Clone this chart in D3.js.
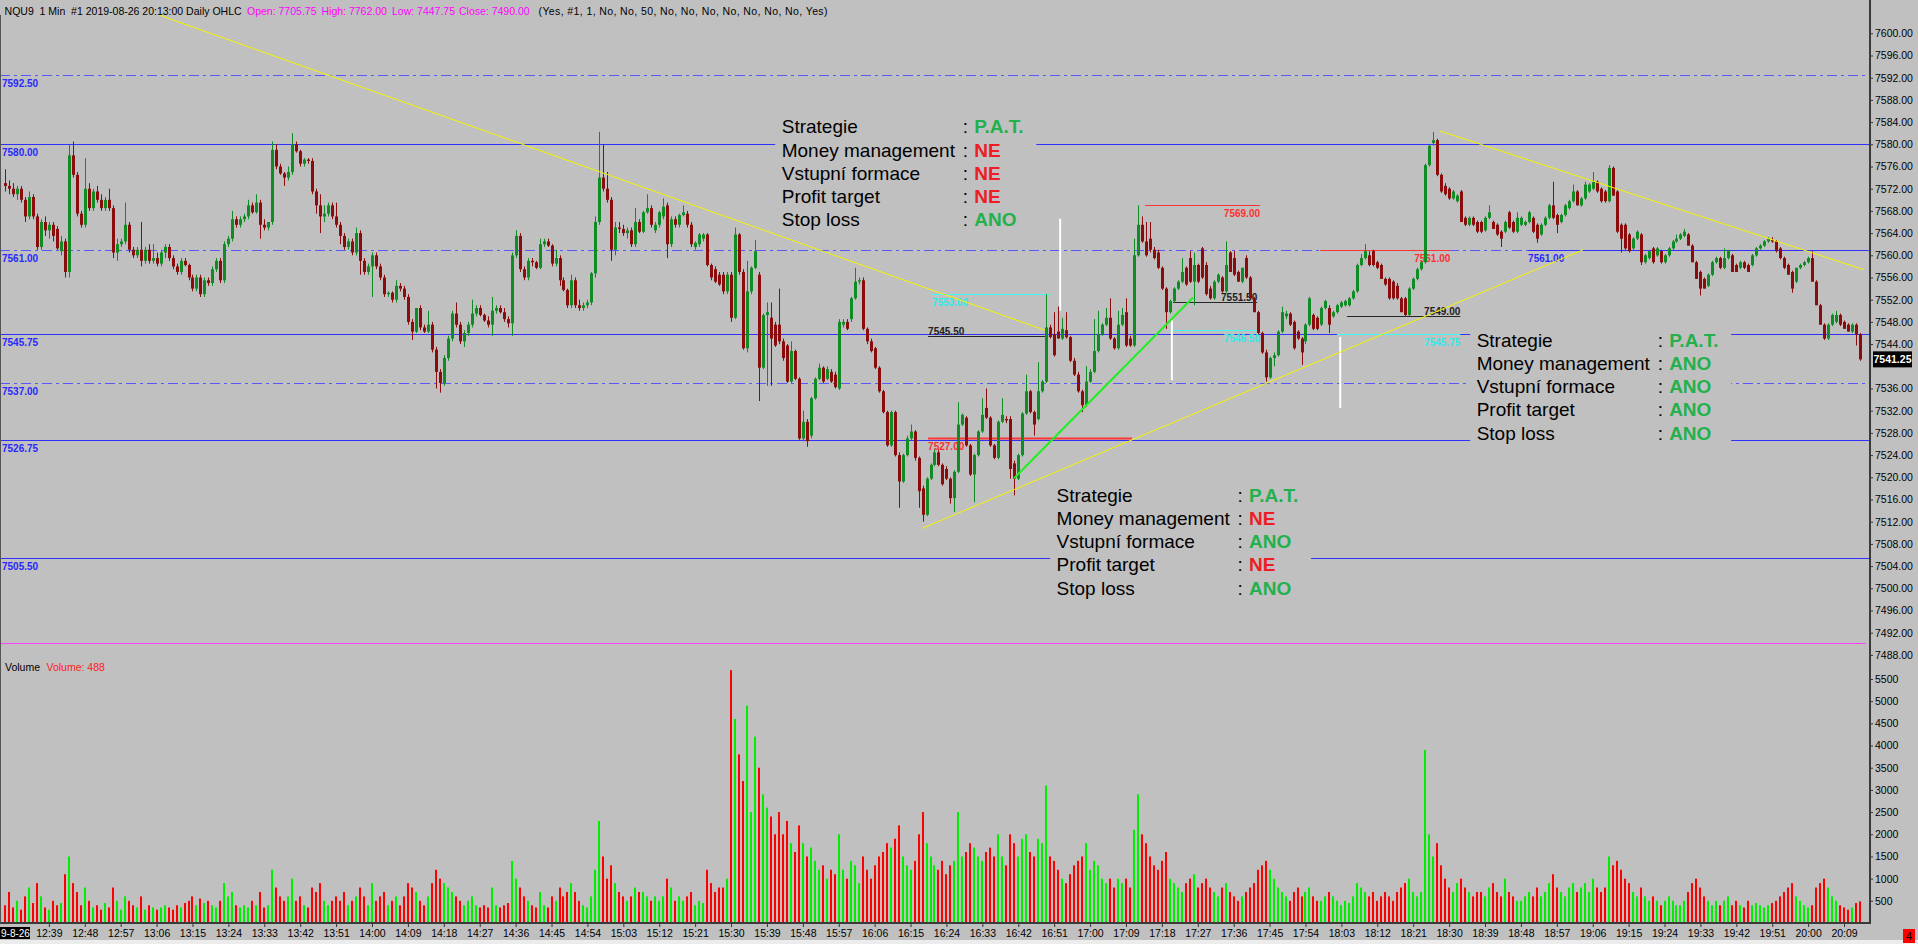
<!DOCTYPE html>
<html><head><meta charset="utf-8">
<script src="https://cdn.jsdelivr.net/npm/d3@7"></script>
<style>
html,body{margin:0;padding:0;background:#c0c0c0;overflow:hidden}
svg{display:block}
text{font-family:"Liberation Sans",Arial,sans-serif;white-space:pre}
</style></head><body><svg id="c" width="1918" height="944"></svg>
<script>
// ---------------- DATA ----------------
const symbolInfo = "NQU9  1 Min  #1 2019-08-26 20:13:00 Daily OHLC";
const headerFields = [["Open",7705.75],["High",7762.00],["Low",7447.75],["Close",7490.00]];
const studyParams = "(Yes, #1, 1, No, No, 50, No, No, No, No, No, No, No, Yes)";
const firstBarTime = "12:28";
const lastPrice = 7541.25;
const lastVolume = 488;

// one row per 1-minute bar: [open, high, low, close]
const ohlc = [
[7573,7575.5,7571.5,7572.5],[7572.5,7573.5,7571,7572],[7572,7573,7570.5,7571],[7571,7572.5,7570,7572],[7572,7572.5,7569.5,7570],
[7570,7570.5,7566,7567],[7567,7571.5,7566.5,7570.5],[7570.5,7571,7566.5,7567],[7567,7567.5,7561,7561.5],[7561.5,7566.5,7561,7566],
[7566,7567,7563.5,7564.5],[7564.5,7566,7563,7565.5],[7565.5,7566,7562.5,7563.5],[7564.75,7565.25,7561,7561.25],[7560.75,7563.5,7560,7562.5],
[7562.5,7563,7556,7557],[7557,7580,7556,7578],[7578,7580.5,7574,7574.5],[7574.5,7575,7567,7567.5],[7567.5,7568,7565,7565.5],
[7565.5,7577.5,7565,7572],[7572,7573,7568,7568.5],[7568.5,7572,7568,7571.5],[7571.5,7572.5,7569.5,7570],[7570,7571,7568,7568.5],
[7568.5,7570.5,7568,7570],[7570,7572,7568,7568.5],[7568.5,7569,7559.5,7560.5],[7560.5,7563,7559,7562],[7562,7563,7561.5,7562.5],
[7562.5,7569.5,7562,7565.5],[7565.5,7566,7560.5,7561],[7561,7561.5,7559.5,7560],[7560,7561.5,7559.5,7561],[7561,7566,7558,7559],
[7559,7561.5,7558.5,7561],[7561,7562,7558.5,7559],[7559,7562,7558.5,7559.5],[7559.5,7560.5,7558,7558.5],[7558.5,7561,7558,7560.5],
[7560.5,7562,7559.5,7561.5],[7561.5,7562,7559,7559.5],[7559.5,7560,7557.5,7558],[7558,7558.5,7556.5,7557],[7557,7559.5,7556.5,7559],
[7559,7559.5,7558,7558.25],[7558.25,7558.5,7555.5,7556],[7556,7556.5,7553.5,7554],[7554,7556.5,7553.5,7556],[7556,7556.5,7552.5,7553],
[7553,7556,7552.5,7555.5],[7555.5,7556,7554.5,7555],[7555,7558,7554.5,7557.5],[7557.5,7559.5,7557,7559],[7559,7559.5,7555,7555.5],
[7555.5,7562.5,7555,7562],[7562,7563.5,7561.5,7563],[7563,7568,7562.5,7566.5],[7566.5,7567,7565,7565.5],[7565.5,7567,7565,7566.5],
[7566.5,7567.5,7566,7567],[7567,7570,7566.5,7569],[7569,7569.5,7567.5,7567.75],[7567.75,7571,7567.5,7569.5],[7569.5,7570,7563,7565.5],
[7565.5,7566.5,7564.5,7565],[7565,7566,7564.5,7566],[7566,7580.5,7565.5,7579],[7579,7580,7575.5,7576],[7576,7576.5,7574.5,7574.75],
[7574.75,7575,7572.5,7574],[7574,7576,7573.5,7575],[7575,7582,7574.5,7580],[7580,7580.5,7578.5,7578.75],[7578.75,7579,7576,7576.5],
[7576.5,7577.5,7576,7577.25],[7577.25,7577.5,7576.5,7577],[7577,7577.5,7571,7571.5],[7571.5,7572,7567.5,7569],[7569,7571,7564,7567],
[7567,7569,7566,7567.5],[7567.5,7569.5,7567,7569],[7569,7569.5,7566.5,7567],[7567,7569.5,7565,7565.5],[7565.5,7566,7562,7563.5],
[7563.5,7564,7561,7561.5],[7561.5,7563,7561,7562.5],[7562.5,7563,7560,7560.5],[7560.5,7565,7560,7564],[7564,7564.5,7556.5,7559],
[7559,7559.5,7556.5,7557],[7557,7558.5,7556.5,7558],[7558,7560.5,7552.5,7560],[7560,7560.5,7557.5,7558],[7558,7558.5,7555.5,7556],
[7556,7556.5,7552.5,7553],[7553,7553.5,7552.5,7553.25],[7553.25,7553.5,7551.5,7552],[7552,7555.5,7551.5,7554.5],[7554.5,7555,7553.5,7554],
[7554,7554.5,7552,7552.5],[7552.5,7553,7547.5,7548],[7548,7548.5,7544.75,7546.25],[7546.25,7550.5,7546,7550.5],[7550.5,7551,7546.5,7547],
[7547,7547.5,7546,7546.25],[7546.25,7550,7546,7547.5],[7547.5,7548,7542.5,7543],[7543,7543.5,7536,7539],[7539,7539.5,7535.25,7537],
[7537,7542,7536.5,7541.5],[7541.5,7545.5,7541,7545],[7545,7550,7544.5,7549.5],[7549.5,7551.5,7547,7547.5],[7547.5,7548,7544,7544.5],
[7544.5,7546.5,7543.5,7546],[7546,7548,7545.5,7547.5],[7547.5,7552,7547,7549.5],[7549.5,7551,7549,7550.5],[7550.5,7551,7549,7549.25],
[7549.25,7549.5,7548,7548.25],[7548.25,7549,7547,7547.5],[7547.5,7552.5,7545.5,7550],[7550,7551,7549.5,7550.5],[7550.5,7551,7549.5,7549.75],
[7549.75,7550.5,7548,7548.5],[7548.5,7549,7547,7547.75],[7547.75,7560.5,7545.5,7560],[7560,7564.5,7559.5,7563.5],[7563.5,7564,7557,7557.5],
[7557.5,7558,7555.5,7556],[7556,7559.5,7555.5,7559],[7559,7559.5,7558,7558.75],[7558.75,7559,7557.5,7557.75],[7557.75,7563,7557.5,7562],
[7562,7563,7561.5,7562.5],[7562.5,7563,7561.5,7561.75],[7561.75,7562,7558,7558.5],[7558.5,7561,7558,7559.5],[7559.5,7560,7554.5,7555.5],
[7555.5,7556,7553.5,7553.75],[7553.75,7554,7550.5,7551],[7551,7556.5,7550.5,7555.5],[7555.5,7556,7550.5,7551],[7551,7552,7550,7550.5],
[7550.5,7551.5,7550,7551],[7551,7552,7550.5,7551.5],[7551.5,7557,7551,7556.75],[7556.75,7567,7556,7566],[7566,7582.25,7565.5,7574],
[7574,7580,7571.5,7572],[7572,7575,7569.5,7570],[7570,7570.5,7559,7561],[7561,7566,7560,7565],[7565,7566,7564,7564.75],
[7564.75,7565.5,7563.5,7564],[7564,7565,7563,7564.5],[7564.5,7565,7561.5,7562],[7562,7568.5,7561.5,7566],[7566,7566.5,7564,7564.25],
[7564.25,7568,7564,7567.75],[7567.75,7571,7567.5,7568.5],[7568.5,7569,7565,7565.5],[7564.5,7566,7564,7565.5],[7565.5,7568,7565,7567.75],
[7567,7570.25,7566.5,7568.75],[7569,7569.5,7559.5,7562],[7562,7567,7561.5,7566.5],[7566.5,7567,7565,7565.5],[7565.5,7567.5,7565,7567.25],
[7567.25,7569,7567,7567.75],[7567.5,7568,7565,7565.5],[7565.5,7566,7561.5,7562],[7561.5,7562.5,7561,7562.25],[7562,7564,7561.5,7563.75],
[7563,7564,7562.5,7563.75],[7563.75,7564,7558,7558.25],[7558.25,7558.5,7555.5,7556],[7557.5,7558,7555,7555.25],[7556.5,7557,7554.5,7554.75],
[7556.5,7557,7553,7553.5],[7553.5,7557,7553,7556.5],[7556.5,7557,7548,7548.75],[7548.75,7565,7548.5,7563.75],[7563.75,7564,7556.5,7557],
[7557,7557.5,7543,7543.25],[7543.25,7559,7542.5,7553.5],[7553.5,7558,7553,7557.75],[7557.75,7562.75,7557.5,7560.75],[7556.5,7557,7533.75,7539.75],
[7539.75,7549.5,7539.5,7549.25],[7549.25,7551.5,7536.5,7549.75],[7548.75,7551.5,7536.5,7545],[7547.5,7548,7543.5,7543.75],[7547.5,7554,7544,7544.5],
[7544.5,7545,7541,7541.5],[7543.75,7544,7537,7537.25],[7537.25,7544.5,7537,7542.75],[7542.75,7543,7537.5,7537.75],[7537.75,7538,7526.75,7527],
[7527,7532,7526.5,7530],[7530,7530.5,7525.5,7526.5],[7527.5,7534.5,7527,7534.25],[7534.25,7538,7534,7537.75],[7537.75,7540.5,7537.5,7539.75],
[7539.75,7540,7537,7537.25],[7537.75,7540,7537.5,7539.5],[7539,7539.5,7537,7537.25],[7538.5,7539,7536,7536.25],[7536,7548.5,7535.75,7548],
[7547.5,7548.5,7547,7548],[7548,7548.5,7546.5,7546.75],[7548.5,7552.5,7548,7552.25],[7552.25,7557.75,7552,7555.25],[7555.25,7556,7554.75,7555.5],
[7555.5,7556,7546.5,7546.75],[7546.75,7547,7544,7544.5],[7544.5,7545,7542.5,7542.75],[7543.25,7543.5,7539.5,7539.75],[7539.75,7540,7535.25,7535.5],
[7535.5,7535.75,7531.5,7531.75],[7531.75,7532,7525.5,7525.75],[7525.75,7532,7525.5,7531.75],[7531.75,7532,7523.75,7524],[7524,7524.5,7514.5,7519.25],
[7519.25,7524.25,7519,7524],[7524,7527.5,7523.75,7527],[7527,7529.5,7526.75,7528.25],[7528.25,7528.5,7523,7523.5],[7523.5,7523.75,7514.5,7517.5],
[7518,7518.5,7512,7513.25],[7513.25,7520,7513,7519.75],[7519.75,7522.5,7519.5,7522.25],[7522.25,7525,7522,7524.5],[7524.5,7525,7522,7522.25],
[7522.25,7522.5,7518.5,7518.75],[7521.5,7522,7519.5,7519.75],[7519.75,7520,7515.25,7516.25],[7516.25,7521.25,7513.75,7521],[7521,7533.5,7520.75,7529.5],
[7529.5,7531.5,7529.25,7531.25],[7530.75,7531,7525.5,7525.75],[7525.75,7526,7520.25,7520.5],[7520.5,7524.25,7515.5,7524],[7524,7528.5,7523.75,7528.25],
[7528.25,7534.25,7528,7531.25],[7532.5,7536,7530.5,7530.75],[7530.75,7531,7525.5,7525.75],[7525.75,7526,7523.25,7523.5],[7523.5,7530.25,7523.25,7530],
[7530,7534.25,7529.75,7531.25],[7530.5,7531,7529.75,7530.25],[7530.5,7531,7519.75,7521.5],[7522.5,7523,7516.75,7519.75],[7519.75,7524.25,7519.5,7524],
[7524,7531.75,7523.75,7531.5],[7531.5,7538.5,7531.25,7535.5],[7535.5,7535.75,7531.5,7531.75],[7531.75,7532,7527.5,7529.5],[7530.5,7540.75,7530.25,7535.5],
[7535.5,7537.5,7535.25,7537.25],[7537.25,7553,7537,7547],[7547,7547.5,7545,7545.25],[7545.75,7549.75,7541.75,7542],[7546.25,7550.75,7545,7545],
[7545,7548.75,7544.75,7546.75],[7546.5,7549.75,7545,7545.25],[7545.25,7545.5,7540.75,7541],[7541,7541.5,7538.25,7538.5],[7538.5,7539,7535.25,7535.5],
[7535.5,7535.75,7531.75,7533],[7533,7540,7532.75,7537.25],[7537.25,7539.5,7537,7539],[7539,7548.5,7538.75,7542.75],[7542.75,7550,7542.5,7545.75],
[7545.75,7547.75,7545.5,7547.5],[7547.5,7550.5,7547.25,7548.75],[7548.75,7552.25,7544.75,7545],[7545,7545.25,7543,7543.25],[7543.25,7550,7543,7547.5],
[7547.5,7550.5,7547.25,7549.25],[7549.75,7552.25,7543.5,7543.75],[7545,7545.5,7543.5,7543.75],[7543.75,7563,7543.5,7560],[7560,7569,7559.75,7565.5],
[7565.5,7567,7562.25,7562.5],[7562.5,7566,7559.75,7560],[7563,7566,7560.5,7561],[7561,7561.5,7559.25,7559.5],[7560.5,7561,7557.5,7557.75],
[7557.75,7558,7553.75,7554],[7554,7554.25,7546.75,7549.75],[7549.75,7552,7549.5,7551.75],[7551.75,7554.25,7551.5,7554],[7554,7555.5,7553.75,7555.25],
[7555.25,7559.5,7555,7557],[7557.75,7558,7554.5,7554.75],[7559.5,7560.75,7555,7555.25],[7555.25,7560.5,7551,7558.25],[7558.25,7558.5,7555,7555.25],
[7561.25,7561.5,7555.75,7556],[7558.25,7558.75,7552.75,7553],[7554,7554.5,7552,7552.25],[7552.25,7555.5,7552,7555.25],[7555.25,7556.75,7555,7556.5],
[7556,7556.25,7553.25,7553.5],[7553.5,7562.5,7553.25,7558.25],[7560.5,7560.75,7557,7557],[7559.5,7560.75,7556.25,7556.5],[7557,7557.25,7555.25,7555.25],
[7555.25,7557.75,7555,7557.75],[7559.5,7560,7555.75,7556],[7556,7556.25,7552.25,7552.25],[7552.25,7552.5,7549.75,7549.75],[7549.75,7550,7545.75,7546],
[7546,7546.25,7542.25,7542.5],[7542.5,7543,7537.25,7538],[7538,7541.75,7537.75,7541.5],[7541.5,7542.5,7540,7542],[7542,7546.5,7541.75,7546.25],
[7546.25,7550.75,7546,7549.75],[7549,7550,7548.5,7549.5],[7549.5,7549.75,7547.25,7547.5],[7548,7548.25,7543,7543.25],[7546.25,7546.5,7544.75,7545],
[7545,7545.25,7540.25,7542.5],[7544.5,7547.75,7544,7547.5],[7547.5,7552.5,7547.25,7552.25],[7549.25,7549.5,7546.5,7546.75],[7548.75,7549,7546.5,7546.75],
[7547.5,7550.75,7547.25,7550.5],[7550.5,7552,7550.25,7551.75],[7550.5,7551,7546,7547.5],[7549,7550,7548.75,7549.75],[7549.75,7551.25,7549.5,7551],
[7550.75,7551.75,7550.5,7551.5],[7551,7552,7550.75,7551.75],[7551,7552.5,7550.75,7552.25],[7552.25,7553.75,7552,7553.5],[7553.5,7558.5,7553.25,7558.25],
[7558.25,7560.25,7558,7559.5],[7559.5,7562,7559.25,7560.75],[7560,7560.75,7558,7558.25],[7560.75,7561,7558,7558.25],[7558.75,7559,7557.5,7557.75],
[7558.25,7558.5,7555.75,7555.75],[7555.75,7556,7554.5,7554.75],[7555.75,7556,7552,7552.25],[7555.25,7555.5,7552,7552.25],[7554.5,7555,7552,7552.25],
[7552.25,7552.5,7549.75,7549.75],[7552.25,7552.5,7549,7549.25],[7549.25,7554.25,7549,7554],[7554,7556,7553.75,7555.75],[7555.75,7557.75,7555.5,7557.5],
[7557.5,7559,7557.25,7558.75],[7558.75,7576.5,7558.5,7576.25],[7576.25,7580,7576,7579.75],[7580.25,7582.25,7579.75,7580.75],[7580.75,7581,7574.25,7574.5],
[7574.5,7574.75,7571.25,7571.5],[7572.5,7573,7570.75,7571],[7572,7572.25,7570,7570.25],[7570.25,7571.75,7570,7571.5],[7569.75,7571,7569.5,7570.75],
[7571.5,7571.75,7566,7566],[7566.75,7567,7565.25,7565.5],[7565.5,7567,7565.25,7566.75],[7566.75,7567,7565.25,7565.5],[7566,7566.25,7564,7564.25],
[7566,7566.25,7564,7564.25],[7564.5,7567,7564.25,7566.75],[7566.75,7569,7566.5,7567.75],[7566,7566.25,7564.75,7564.75],[7565.5,7565.75,7563.5,7563.75],
[7564.25,7564.5,7561.5,7563],[7564.25,7566.25,7564,7566],[7567.75,7568,7564.75,7565],[7566,7566.25,7564,7564.25],[7564.25,7567.75,7564,7566.75],
[7565.5,7567,7565.25,7566.75],[7565.5,7566.25,7565.25,7566],[7566,7568,7565.75,7567.75],[7566.75,7567,7564,7564.25],[7565.5,7565.75,7562.25,7563],
[7563.75,7565.75,7563.5,7565.5],[7565.5,7567,7565.25,7566.75],[7566.75,7569.25,7566.5,7569],[7569,7573.25,7566.5,7566.75],[7567.25,7567.5,7564,7565.5],
[7566,7567.5,7565.75,7567.25],[7567.25,7569.25,7567,7569],[7568.5,7570,7568.25,7569.75],[7569.75,7572.75,7569.5,7571.5],[7571.5,7571.75,7569,7569],
[7569,7570.5,7568.75,7570.25],[7570.25,7573.25,7570,7572.75],[7571.5,7573,7571.25,7572.75],[7572,7575,7571.75,7573.25],[7573.25,7573.5,7571.25,7571.5],
[7572,7572.25,7569.5,7569.75],[7571.5,7571.75,7569.5,7569.75],[7569.75,7576.25,7569.5,7575.75],[7575.75,7576,7570.75,7570.75],[7571.5,7571.75,7564,7564.25],
[7565.5,7565.75,7560.5,7563],[7565.5,7565.75,7561,7561.25],[7563.75,7564,7560.5,7560.75],[7561.25,7563.25,7561,7563],[7563,7564.5,7562.75,7564.25],
[7563.75,7564,7558.25,7558.75],[7558.75,7560.25,7558.5,7560],[7559.5,7561,7559.25,7560.75],[7561.25,7561.5,7558.5,7558.75],[7560,7561.5,7559.75,7561.25],
[7560.75,7561,7558.5,7558.75],[7558.75,7560.25,7558.5,7560],[7560,7561.5,7559.75,7561.25],[7561.25,7562.75,7561,7562.5],[7562.5,7563.75,7562.25,7563],
[7563,7564,7562.75,7563.75],[7563.5,7564.75,7563.25,7564.25],[7563.75,7564,7561.75,7561.75],[7561.75,7562,7558.75,7558.75],[7558.75,7559,7555.75,7555.75],
[7557,7557.25,7552.75,7554],[7555.75,7556,7554,7554],[7554.5,7556.75,7554.25,7556.5],[7556.5,7559,7556.25,7558.75],[7558.75,7559.75,7558.5,7559.5],
[7559.5,7559.75,7557.5,7557.75],[7557.75,7561.25,7557.5,7559.5],[7559.5,7561,7559.25,7560.75],[7560,7560.25,7557,7557],[7558.25,7558.5,7557,7557],
[7557.75,7559,7557.5,7558.75],[7558.75,7559,7557.5,7557.75],[7558.25,7558.5,7557,7557],[7558.25,7560.25,7558,7560],[7560,7561.5,7559.75,7561.25],
[7561.25,7562,7561,7561.75],[7561.75,7562.75,7561.5,7562.5],[7562.5,7563.25,7562.25,7563],[7562.75,7563.25,7562.25,7562.5],[7562.5,7562.75,7560.5,7560.75],
[7561.25,7561.5,7559.25,7559.5],[7559.5,7559.75,7557.5,7557.75],[7558.25,7558.5,7556.5,7556.5],[7557,7557.25,7553.25,7554],[7555.25,7557.75,7555,7557.75],
[7557.75,7558.5,7557.5,7558.25],[7558.25,7559,7558,7558.75],[7558.75,7559.75,7558.5,7559.5],[7559.5,7560.75,7555.25,7555.25],[7555.25,7555.5,7551,7551],
[7551,7551.25,7547.5,7547.5],[7547.5,7547.75,7544.75,7545],[7545,7547.75,7544.75,7547.5],[7547.5,7549.5,7547.25,7549.25],[7548,7550,7547.75,7549.25],
[7549.25,7549.5,7547.25,7547.5],[7548,7548.25,7546.75,7546.75],[7547.5,7547.75,7546.25,7546.25],[7546.25,7547.75,7546,7547.5],[7547.5,7547.75,7543.75,7545.75],
[7545.75,7546,7541,7541.25]
];

const volumes = [
400,700,350,500,300,600,800,450,900,600, 350,300,500,400,450,1100,1500,900,700,400,
800,500,350,400,300,450,350,800,500,300, 600,500,400,350,600,300,400,350,300,350,
400,350,300,400,350,450,500,600,400,550, 450,500,400,350,500,900,600,700,400,350,
400,350,500,400,700,350,400,1200,800,600, 500,600,1000,500,600,400,350,800,700,900,
500,400,500,600,500,700,400,500,600,800, 600,400,900,500,600,700,400,500,600,400,
600,900,800,700,500,400,600,900,1200,1000, 900,800,700,600,500,400,500,600,400,350,
400,350,800,400,350,400,450,1400,1000,800, 600,500,400,350,700,400,350,600,500,800,
600,700,900,700,500,400,350,600,1200,2300, 1500,1000,1300,900,700,600,500,600,800,700,
700,600,500,600,500,600,1000,800,500,600, 500,600,700,400,500,450,1200,900,700,800,
800,1000,5700,4600,3800,3200,4900,2500,4200,3500, 2900,2600,2400,2000,2500,2000,2300,1800,1600,2200,
1800,1500,1700,1400,1200,1300,1000,1200,1100,2000, 1200,1000,1400,1300,900,1500,1200,1000,1300,1500,
1600,1800,1700,1900,2200,1500,1300,1200,1400,2000, 2500,1800,1500,1300,1200,1400,1100,1300,1400,2500,
1500,1600,1800,1700,1500,1400,1600,1700,1500,2000, 1500,1300,2000,1800,1500,1900,2000,1600,1500,1900,
1800,3100,1500,1400,1200,1000,900,1100,1300,1400, 1500,1800,1200,1400,1300,1000,900,1000,800,1000,
900,1000,800,2100,2900,2000,1800,1500,1300,1200, 1400,1600,1000,900,800,700,900,1000,1100,800,
900,1000,800,700,600,800,900,700,600,500, 600,700,800,900,1200,1300,1400,1200,1000,800,
700,600,500,700,800,600,700,800,600,500, 500,600,700,600,500,400,500,450,600,900,
800,700,600,700,500,600,700,600,500,700, 800,900,1000,700,600,700,3900,2000,1500,1800,
1300,1000,800,700,900,1000,800,700,600,700, 700,600,800,900,700,600,1000,700,600,500,
500,600,700,600,800,600,700,900,1100,800, 700,600,800,900,700,800,900,700,1000,800,
700,800,1500,1300,1400,1200,1000,900,700,600, 800,600,500,600,500,400,500,600,500,400,
400,500,700,900,1000,800,600,500,400,500, 400,500,600,400,500,400,350,500,400,450,
400,350,400,450,500,600,700,800,900,600, 500,400,350,400,800,900,1000,800,600,500,
400,350,300,350,450,488
];

const timeLabels = ["12:39","12:48","12:57","13:06","13:15","13:24","13:33","13:42","13:51","14:00","14:09","14:18","14:27","14:36","14:45","14:54","15:03","15:12","15:21","15:30","15:39","15:48","15:57","16:06","16:15","16:24","16:33","16:42","16:51","17:00","17:09","17:18","17:27","17:36","17:45","17:54","18:03","18:12","18:21","18:30","18:39","18:48","18:57","19:06","19:15","19:24","19:33","19:42","19:51","20:00","20:09"];
const dateLabel = "9-8-26";
// 7540.00 sits under the last-price tag, so its label is not listed
const priceTicks = [7488,7492,7496,7500,7504,7508,7512,7516,7520,7524,7528,7532,7536,7544,7548,7552,7556,7560,7564,7568,7572,7576,7580,7584,7588,7592,7596,7600];
const volumeTicks = [500,1000,1500,2000,2500,3000,3500,4000,4500,5000,5500];

const levelsSolid = [7580, 7545.75, 7526.75, 7505.5];
const levelsDashDot = [7592.5, 7561, 7537];

// marked price lines: bar span (i1..i2), price, kind, which end carries the label
const markLines = [
  {kind:"black", i1:231.4, i2:261.5, p:7545.5,  at:"start"},
  {kind:"black", i1:292.8, i2:313.9, p:7551.5,  at:"end"},
  {kind:"black", i1:336.4, i2:364.8, p:7549,    at:"end"},
  {kind:"cyan",  i1:232.4, i2:262.5, p:7553,    at:"start"},
  {kind:"cyan",  i1:292.1, i2:314.6, p:7546.5,  at:"end"},
  {kind:"cyan",  i1:333.9, i2:364.8, p:7545.75, at:"end"},
  {kind:"red",   i1:285.8, i2:314.6, p:7569,    at:"end"},
  {kind:"red",   i1:231.4, i2:282.5, p:7527,    at:"start"},
  {kind:"red",   i1:329.7, i2:362.3, p:7561,    at:"end"},
  {kind:"blue",  i1:381.8, i2:467.2, p:7561,    at:"start"}
];
// white vertical markers: [bar, price top, price bottom]
const whiteMarks = [[264.5,7566.6,7550],[292.5,7548.3,7537.5],[334.7,7545.3,7532.5]];
// yellow trend lines: [bar1, price1, bar2, price2]
const trendLines = [[38.6,7603.3,260.7,7546.5],[229.9,7510.8,395.6,7561],[359.7,7582.4,466,7557.4]];
const greenLines = [[252.9,7519.8,297.8,7552.4]];

const panelRows = ["Strategie","Money management","Vstupní formace","Profit target","Stop loss"];
const panelValues = [
  ["P.A.T.","NE","NE","NE","ANO"],
  ["P.A.T.","ANO","ANO","ANO","ANO"],
  ["P.A.T.","NE","ANO","NE","ANO"]
];
// anchor of each panel: [bar, price of first text baseline]
const panelAnchors = [[194.7,7581.95],[368.9,7543.53],[263.6,7515.6]];

// ---------------- DRAWING ----------------
const W = 1918, H = 944, plotR = 1870, axisY = 923, paneSep = 643;
const BG = "#c0c0c0", UP = "#108c24", DN = "#8a0c0c", VUP = "#00ee00", VDN = "#ff0000";
const svg = d3.select("#c");
const x = d3.scaleLinear().domain([0, ohlc.length - 1]).range([5, 1860]);
const y = d3.scaleLinear().domain([7488, 7600]).range([654.9, 33.3]);
const yv = d3.scaleLinear().domain([0, 5500]).range([axisY, 679]);
const crisp = v => Math.round(v) + 0.5;
const f2 = d3.format(".2f");
const toMin = s => { const [h, m] = s.split(":").map(Number); return h * 60 + m; };
const t0 = toMin(firstBarTime);

svg.append("rect").attr("width", W).attr("height", H).attr("fill", BG);

svg.append("defs").append("clipPath").attr("id", "pp")
  .append("rect").attr("x", 0).attr("y", 14).attr("width", plotR).attr("height", paneSep - 14);
const pane = svg.append("g").attr("clip-path", "url(#pp)");

// horizontal levels
pane.selectAll(".lvs").data(levelsSolid).join("line")
  .attr("x1", 0).attr("x2", plotR).attr("y1", d => crisp(y(d))).attr("y2", d => crisp(y(d)))
  .attr("stroke", "#3030ff").attr("stroke-width", 1);
pane.selectAll(".lvd").data(levelsDashDot).join("line")
  .attr("x1", 0).attr("x2", plotR).attr("y1", d => crisp(y(d))).attr("y2", d => crisp(y(d)))
  .attr("stroke", "#5858ff").attr("stroke-width", 1).attr("stroke-dasharray", "10,4,3,4");
pane.selectAll(".lvt").data(levelsSolid.concat(levelsDashDot)).join("text")
  .attr("x", 2).attr("y", d => Math.round(y(d)) + 12).attr("font-size", 10).attr("fill", "#2828ff")
  .attr("font-weight", "bold").text(d => f2(d));

// panel background boxes (hide the level lines under the text)
const ROW = 23.2;
panelAnchors.forEach(a => {
  const bx = x(a[0]), by = y(a[1]);
  pane.append("rect").attr("x", bx - 6.5).attr("y", by - 19).attr("width", 261)
    .attr("height", ROW * 4 + 26).attr("fill", BG);
});

// marked lines
const kindColor = {black: "#262626", cyan: "#3ff8f8", red: "#ff3434", blue: "#3030ff"};
const labelColor = {black: "#202020", cyan: "#30e8e8", red: "#ff3030", blue: "#2828ff"};
markLines.forEach(m => {
  const yy = crisp(y(m.p));
  pane.append("line").attr("x1", x(m.i1)).attr("x2", x(m.i2)).attr("y1", yy).attr("y2", yy)
    .attr("stroke", kindColor[m.kind]).attr("stroke-width", m.kind === "red" && m.p < 7530 ? 2 : 1);
  const above = m.kind === "black";
  pane.append("text")
    .attr("x", m.at === "start" ? x(m.i1) : x(m.i2))
    .attr("y", above ? yy - 2 : yy + 11)
    .attr("text-anchor", m.at === "start" ? "start" : "end")
    .attr("font-size", 10).attr("font-weight", "bold").attr("fill", labelColor[m.kind])
    .text(f2(m.p));
});

// white verticals
pane.selectAll(".wm").data(whiteMarks).join("line")
  .attr("x1", d => x(d[0])).attr("x2", d => x(d[0])).attr("y1", d => y(d[1])).attr("y2", d => y(d[2]))
  .attr("stroke", "#ffffff").attr("stroke-width", 2);

// candles
const cg = pane.append("g");
cg.selectAll("line").data(ohlc).join("line")
  .attr("x1", (d, i) => crisp(x(i))).attr("x2", (d, i) => crisp(x(i)))
  .attr("y1", d => y(d[1])).attr("y2", d => y(d[2]))
  .attr("stroke", d => d[3] >= d[0] ? UP : DN).attr("stroke-width", 1);
cg.selectAll("rect").data(ohlc).join("rect")
  .attr("x", (d, i) => Math.round(x(i)) - 1).attr("width", 3)
  .attr("y", d => y(Math.max(d[0], d[3])))
  .attr("height", d => Math.max(1, y(Math.min(d[0], d[3])) - y(Math.max(d[0], d[3]))))
  .attr("fill", d => d[3] >= d[0] ? UP : DN);

// trend lines
pane.selectAll(".tl").data(trendLines).join("line")
  .attr("x1", d => x(d[0])).attr("y1", d => y(d[1])).attr("x2", d => x(d[2])).attr("y2", d => y(d[3]))
  .attr("stroke", "#f4f400").attr("stroke-width", 1);
pane.selectAll(".gl").data(greenLines).join("line")
  .attr("x1", d => x(d[0])).attr("y1", d => y(d[1])).attr("x2", d => x(d[2])).attr("y2", d => y(d[3]))
  .attr("stroke", "#22ee22").attr("stroke-width", 2);

// panels text
panelAnchors.forEach((a, k) => {
  const bx = x(a[0]), by = y(a[1]);
  const g = svg.append("g");
  panelRows.forEach((r, j) => {
    const yy = by + j * ROW;
    g.append("text").attr("x", bx).attr("y", yy).attr("font-size", 19).attr("fill", "#000").text(r);
    g.append("text").attr("x", bx + 181).attr("y", yy).attr("font-size", 19).attr("fill", "#000").text(":");
    const v = panelValues[k][j];
    g.append("text").attr("x", bx + 192.5).attr("y", yy).attr("font-size", 19).attr("font-weight", "bold")
      .attr("fill", v === "NE" ? "#ee1c24" : "#22b14c").text(v);
  });
});

// pane separator
svg.append("line").attr("x1", 0).attr("x2", 1866).attr("y1", paneSep + 0.5).attr("y2", paneSep + 0.5)
  .attr("stroke", "#ff44ff").attr("stroke-width", 1);

// volume bars
svg.append("g").selectAll("rect").data(volumes).join("rect")
  .attr("x", (d, i) => Math.round(x(i)) - 1).attr("width", 2)
  .attr("y", d => yv(d)).attr("height", d => axisY - yv(d))
  .attr("fill", (d, i) => ohlc[i][3] >= ohlc[i][0] ? VUP : VDN);

// axes
const fontFix = g => g.attr("font-family", "'Liberation Sans', Arial, sans-serif").attr("font-size", 10.5);
svg.append("g").attr("transform", `translate(${plotR},0)`)
  .call(d3.axisRight(y).tickValues(priceTicks).tickSize(3).tickPadding(2).tickFormat(f2))
  .call(fontFix).call(g => g.select(".domain").remove())
  .call(g => g.selectAll(".tick line").attr("stroke", "#333"))
  .call(g => g.selectAll(".tick text").attr("fill", "#000"));
svg.append("g").attr("transform", `translate(${plotR},0)`)
  .call(d3.axisRight(yv).tickValues(volumeTicks).tickSize(3).tickPadding(2).tickFormat(d3.format("d")))
  .call(fontFix).call(g => g.select(".domain").remove())
  .call(g => g.selectAll(".tick line").attr("stroke", "#333"))
  .call(g => g.selectAll(".tick text").attr("fill", "#000"));
const tickIdx = timeLabels.map(s => toMin(s) - t0);
svg.append("g").attr("transform", `translate(0,${axisY})`)
  .call(d3.axisBottom(x).tickValues(tickIdx).tickSize(4).tickPadding(3).tickFormat((d, i) => timeLabels[i]))
  .call(fontFix).call(g => g.select(".domain").remove())
  .call(g => g.selectAll(".tick line").attr("stroke", "#333"))
  .call(g => g.selectAll(".tick text").attr("fill", "#000"));

// frame lines
svg.append("line").attr("x1", plotR).attr("x2", plotR).attr("y1", 0).attr("y2", axisY + 1).attr("stroke", "#3a3a3a").attr("stroke-width", 2);
svg.append("line").attr("x1", 0).attr("x2", plotR).attr("y1", axisY).attr("y2", axisY).attr("stroke", "#3a3a3a").attr("stroke-width", 2);
svg.append("line").attr("x1", 0.5).attr("x2", 0.5).attr("y1", 15).attr("y2", axisY).attr("stroke", "#555").attr("stroke-width", 1);
svg.append("rect").attr("x", 0).attr("y", 940).attr("width", W).attr("height", 4).attr("fill", "#ececec");

// date box bottom-left
svg.append("rect").attr("x", 0).attr("y", 927).attr("width", 30).attr("height", 12).attr("fill", "#000");
svg.append("text").attr("x", 1).attr("y", 937).attr("font-size", 10).attr("fill", "#fff").text(dateLabel);
// red box bottom-right
svg.append("rect").attr("x", 1903).attr("y", 929).attr("width", 12).attr("height", 14).attr("fill", "#ff0000");
svg.append("text").attr("x", 1909).attr("y", 940).attr("text-anchor", "middle").attr("font-size", 11).attr("fill", "#000").text("4");

// last price tag
const ly = y(lastPrice);
svg.append("rect").attr("x", 1873).attr("y", ly - 8).attr("width", 39).attr("height", 16).attr("fill", "#000");
svg.append("text").attr("x", 1892.5).attr("y", ly + 4).attr("text-anchor", "middle").attr("font-size", 10.5)
  .attr("font-weight", "bold").attr("fill", "#fff").text(f2(lastPrice));

// header
const hdr = svg.append("g").attr("font-size", 10.5);
hdr.append("text").attr("x", 4.6).attr("y", 15).attr("fill", "#000").text(symbolInfo);
const hx = [247, 321.5, 392, 459];
headerFields.forEach((h, i) => hdr.append("text").attr("x", hx[i]).attr("y", 15).attr("fill", "#ff00ff").text(`${h[0]}: ${f2(h[1])}`));
hdr.append("text").attr("x", 538.5).attr("y", 15).attr("fill", "#000")
  .attr("textLength", 289).attr("lengthAdjust", "spacing").text(studyParams);

// volume pane title
svg.append("text").attr("x", 5).attr("y", 671).attr("font-size", 10.5).attr("fill", "#000").text("Volume");
svg.append("text").attr("x", 46.5).attr("y", 671).attr("font-size", 10.5).attr("fill", "#ff2020").text(`Volume: ${lastVolume}`);
</script></body></html>
